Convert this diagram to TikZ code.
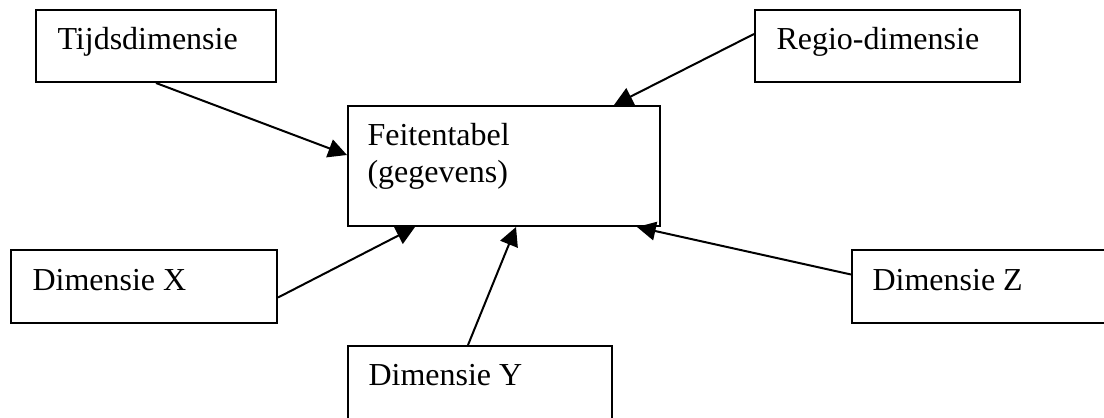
\documentclass[tikz,border=0pt]{standalone}
\usepackage{fontspec}
\setmainfont{Liberation Serif}
\usetikzlibrary{arrows.meta,calc}
\begin{document}
\begin{tikzpicture}[x=0.375pt,y=-0.375pt,
  box/.style={draw,line width=0.75pt,inner sep=0pt,anchor=north west},
  lbl/.style={anchor=base west,inner sep=0pt,font=\fontsize{12}{13.5}\selectfont},
  conn/.style={line width=0.75pt,-{Triangle[length=7pt,width=7pt]}}]
\useasboundingbox (0,0) rectangle (1104,417);
% boxes
\node[box,minimum width=240*0.375pt,minimum height=72*0.375pt] (tijd) at (35,9) {};
\node[box,minimum width=265*0.375pt,minimum height=72*0.375pt] (regio) at (754,9) {};
\node[box,minimum width=312*0.375pt,minimum height=120*0.375pt] (feit) at (347,105) {};
\node[box,minimum width=266*0.375pt,minimum height=73*0.375pt] (dimx) at (10,249) {};
\node[box,minimum width=264*0.375pt,minimum height=85*0.375pt] (dimy) at (347,345) {};
\node[box,minimum width=270*0.375pt,minimum height=73*0.375pt] (dimz) at (851,249) {};
% labels
\node[lbl] (tijdt) at (57,50) {Tijdsdimensie};
\node[lbl] (regiot) at (776,50) {Regio-dimensie};
\node[lbl] (feitt1) at (367,146) {Feitentabel};
\node[lbl] (feitt2) at (367,182) {(gegevens)};
\node[lbl] (dimxt) at (32,290) {Dimensie X};
\node[lbl] (dimyt) at (368,385) {Dimensie Y};
\node[lbl] (dimzt) at (872,290) {Dimensie Z};
% connectors
\draw[conn] (tijd.south) -- ($(feit.west)+(0,-11)$);
\draw[conn] ($(regio.west)+(0,-12)$) -- ($(feit.north east)+(-47,0)$);
\draw[conn] ($(dimx.east)+(0,11)$) -- ($(feit.south west)+(68,0)$);
\draw[conn] ($(dimy.north)+(-12,0)$) -- ($(feit.south)+(12,0)$);
\draw[conn] ($(dimz.west)+(0,-12)$) -- ($(feit.south east)+(-24,0)$);
\end{tikzpicture}
\end{document}
